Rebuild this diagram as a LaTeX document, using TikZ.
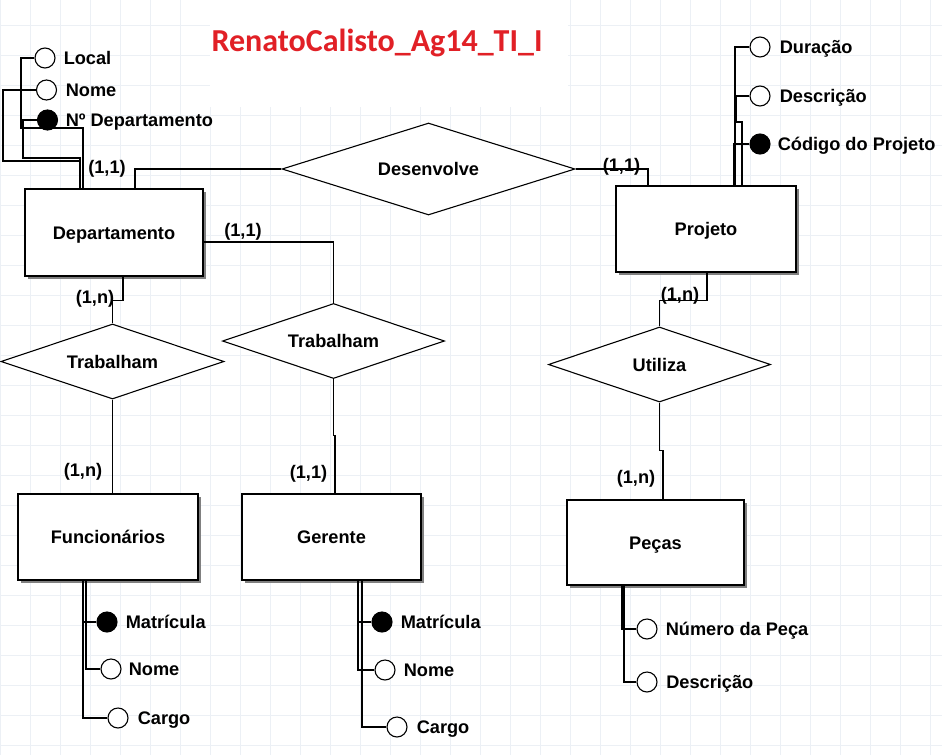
\documentclass[tikz,border=0pt]{standalone}
\usepackage{fontspec}
\setmainfont{Liberation Sans}
\newfontfamily\titlefont{Carlito}
\usetikzlibrary{shapes.geometric,shadows,positioning}
\definecolor{gridc}{RGB}{236,240,245}
\definecolor{titlered}{RGB}{225,32,38}
\begin{document}
\begin{tikzpicture}[x=1pt,y=-1pt,
  every node/.style={font=\fontsize{18.2}{21}\selectfont\bfseries},
  entbox/.style={draw,rectangle,line width=1.3pt,fill=white,inner sep=0pt,
    text height=13pt,text depth=0pt,
    drop shadow={shadow xshift=3pt,shadow yshift=-3pt,fill=black!50,opacity=1}},
  relbox/.style={draw,diamond,aspect=3,line width=1.1pt,fill=white,inner sep=0pt,
    text height=13pt,text depth=0pt},
  attrc/.style={circle,draw,line width=1.1pt,fill=white,minimum size=20pt,inner sep=0pt},
  keyc/.style={attrc,fill=black},
  atxt/.style={inner sep=0pt,anchor=west,text height=13pt,text depth=0pt},
  cardl/.style={inner sep=0pt,text height=13pt,text depth=0pt},
  lnk/.style={line width=1.1pt,black}]
\useasboundingbox (0,0) rectangle (942,755);
\fill[white] (0,0) rectangle (942,755);
% grid
\foreach \x in {0,30,...,930} \draw[gridc,line width=1pt] (\x,0) -- (\x,755);
\foreach \y in {25,55,...,745} \draw[gridc,line width=1pt] (0,\y) -- (942,\y);
\fill[white] (210,0) rectangle (568,107);
% title
\node[font=\titlefont\fontsize{32}{37}\selectfont\bfseries,text=titlered,inner sep=0pt,text height=20.5pt,text depth=0pt] (title) at (377,41) {RenatoCalisto\_Ag14\_TI\_I};
% entities
\node[entbox,minimum width=178pt,minimum height=87pt] (dep) at (114,232.5) {Departamento};
\node[entbox,minimum width=180pt,minimum height=86pt] (proj) at (706,229) {Projeto};
\node[entbox,minimum width=180pt,minimum height=86pt] (func) at (108,537) {Funcionários};
\node[entbox,minimum width=179pt,minimum height=86pt] (ger) at (331.5,537) {Gerente};
\node[entbox,minimum width=177pt,minimum height=85pt] (pecas) at (655.5,542.5) {Peças};
% relationships
\node[relbox,minimum width=293pt,minimum height=92pt] (desen) at (428.5,169) {Desenvolve};
\node[relbox,minimum width=223pt,minimum height=75pt] (trab1) at (112.5,361.5) {Trabalham};
\node[relbox,minimum width=222pt,minimum height=75pt] (trab2) at (333.5,341) {Trabalham};
\node[relbox,minimum width=222pt,minimum height=75pt] (util) at (659.5,364.5) {Utiliza};
% relationship connectors
\draw[lnk] ([xshift=21pt]dep.north) |- (desen.west);
\draw[lnk] (desen.east) -| ([xshift=-58pt]proj.north);
\draw[lnk] ([xshift=9pt]dep.south) -- ++(0,24) -| (trab1.north);
\draw[lnk] ([yshift=-9.5pt]dep.east) -| (trab2.north);
\draw[lnk] (trab1.south) -- (trab1.south |- func.north);
\draw[lnk] (trab2.south) -- ++(0,56) -| ([xshift=3.5pt]ger.north);
\draw[lnk] ([xshift=1pt]proj.south) -- ++(0,28) -| (util.north);
\draw[lnk] (util.south) -- ++(0,48) -| ([xshift=7.5pt]pecas.north);
% cardinalities
\node[cardl] (c1) at (107,167) {(1,1)};
\node[cardl] (c2) at (621.5,164.5) {(1,1)};
\node[cardl] (c3) at (243,230) {(1,1)};
\node[cardl] (c4) at (95,297) {(1,n)};
\node[cardl] (c5) at (83,470) {(1,n)};
\node[cardl] (c6) at (308.5,471.5) {(1,1)};
\node[cardl] (c7) at (680,294) {(1,n)};
\node[cardl] (c8) at (636,476.5) {(1,n)};
% Departamento attributes
\node[attrc] (loc) at (45,58) {};
\node[atxt,right=8pt of loc] (locT) {Local};
\node[attrc] (nomed) at (46.5,90) {};
\node[atxt,right=8.5pt of nomed] (nomedT) {Nome};
\node[keyc] (ndep) at (47.5,120) {};
\node[atxt,right=7.5pt of ndep] (ndepT) {Nº Departamento};
\draw[lnk] (loc.west) -| (21,128) -| ([xshift=-31pt]dep.north);
\draw[lnk] (nomed.west) -| (3,161) -| ([xshift=-34pt]dep.north);
\draw[lnk] (ndep.west) -| (23,158) -| ([xshift=-34pt]dep.north);
% Projeto attributes
\node[attrc] (dur) at (760,47) {};
\node[atxt,right=9pt of dur] (durT) {Duração};
\node[attrc] (descp) at (760,96) {};
\node[atxt,right=9pt of descp] (descpT) {Descrição};
\node[keyc] (cod) at (760,144) {};
\node[atxt,right=7pt of cod] (codT) {Código do Projeto};
\draw[lnk] (dur.west) -| ([xshift=29pt]proj.north);
\draw[lnk] (descp.west) -| (736,122) -| ([xshift=36pt]proj.north);
\draw[lnk] (cod.west) -| ([xshift=28pt]proj.north);
% Funcionarios attributes
\node[keyc] (mat1) at (107,622) {};
\node[atxt,right=8pt of mat1] (mat1T) {Matrícula};
\node[attrc] (nome1) at (111,669) {};
\node[atxt,right=7pt of nome1] (nome1T) {Nome};
\node[attrc] (cargo1) at (118,718) {};
\node[atxt,right=9pt of cargo1] (cargo1T) {Cargo};
\draw[lnk] (mat1.west) -| ([xshift=-25pt]func.south);
\draw[lnk] (nome1.west) -| ([xshift=-22pt]func.south);
\draw[lnk] (cargo1.west) -| ([xshift=-25pt]func.south);
% Gerente attributes
\node[keyc] (mat2) at (382,622) {};
\node[atxt,right=8pt of mat2] (mat2T) {Matrícula};
\node[attrc] (nome2) at (385,670) {};
\node[atxt,right=8pt of nome2] (nome2T) {Nome};
\node[attrc] (cargo2) at (397,727) {};
\node[atxt,right=9pt of cargo2] (cargo2T) {Cargo};
\draw[lnk] (mat2.west) -| ([xshift=26.5pt]ger.south);
\draw[lnk] (nome2.west) -| ([xshift=26.5pt]ger.south);
\draw[lnk] (cargo2.west) -| ([xshift=30.5pt]ger.south);
% Pecas attributes
\node[attrc] (num) at (647,629) {};
\node[atxt,right=8pt of num] (numT) {Número da Peça};
\node[attrc] (descpc) at (647,682) {};
\node[atxt,right=8.5pt of descpc] (descpcT) {Descrição};
\draw[lnk] (num.west) -| ([xshift=-33.5pt]pecas.south);
\draw[lnk] (descpc.west) -| ([xshift=-31.5pt]pecas.south);
\end{tikzpicture}
\end{document}
